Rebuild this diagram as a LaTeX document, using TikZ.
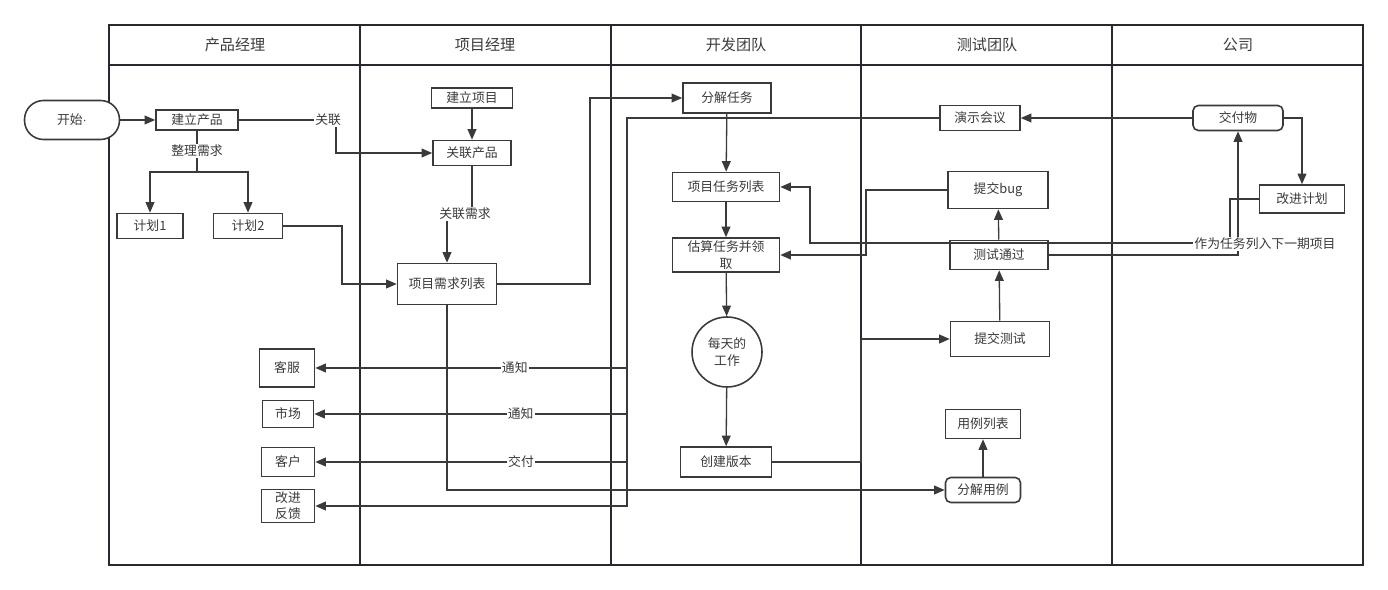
\documentclass[tikz,border=0pt]{standalone}
\usepackage{fontspec}
\setmainfont{Noto Sans CJK SC}
\newfontfamily\latinfont{Liberation Sans}
\usetikzlibrary{arrows.meta}
\definecolor{trait}{HTML}{3A3A3A}
\definecolor{couloir}{HTML}{262A30}

\begin{document}
\begin{tikzpicture}[
    x=0.02cm, y=-0.02cm,     % une unite = un pixel, y vers le bas
    every node/.style={font=\fontsize{7.3}{10}\selectfont, text=trait},
    titre/.style={font=\fontsize{8.6}{10}\selectfont},
    boite/.style={draw=trait, line width=0.9pt, fill=white, inner sep=0pt, align=center},
    arrondi/.style={boite, rounded corners=3pt},
    lien/.style={draw=trait, line width=0.75pt},
    fleche/.style={lien, -{Triangle[length=6pt,width=5pt]}},
    etiquette/.style={fill=white, inner sep=0.6pt}
]
\useasboundingbox (0,0) rectangle (1388,590);

% Couloirs
\draw[couloir, line width=0.8pt] (109,25) rectangle (1363,565);
\draw[couloir, line width=1.3pt] (109,65) -- (1363,65);
\foreach \x in {360,611,861,1112}
    \draw[couloir, line width=1.3pt] (\x,25) -- (\x,565);
\foreach \x/\t in {235/产品经理, 485/项目经理, 736/开发团队, 987/测试团队, 1238/公司}
    \node[titre] (titre-\x) at (\x,45) {\t};

% Produit
\node[boite, rounded corners=0.38cm, minimum width=1.9cm, minimum height=0.78cm] (debut) at (72,120) {开始{\latinfont ·}};
\node[boite, minimum width=1.64cm, minimum height=0.4cm] (jlcp) at (197,120) {建立产品};
\node[boite, minimum width=1.32cm, minimum height=0.5cm] (jh1) at (150,226) {计划1};
\node[boite, minimum width=1.38cm, minimum height=0.5cm] (jh2) at (248,226) {计划2};

% Projet
\node[boite, minimum width=1.62cm, minimum height=0.4cm] (jlxm) at (472,98) {建立项目};
\node[boite, minimum width=1.56cm, minimum height=0.5cm] (glcp) at (472,153) {关联产品};
\node[boite, minimum width=1.98cm, minimum height=0.82cm] (xqlb) at (447,284) {项目需求列表};

% Developpement
\node[boite, minimum width=1.76cm, minimum height=0.6cm] (fjrw) at (727,98) {分解任务};
\node[boite, minimum width=2.14cm, minimum height=0.58cm] (rwlb) at (726,187) {项目任务列表};
\node[boite, minimum width=2.14cm, minimum height=0.68cm] (gs) at (726,255) {估算任务并领\\取};
\node[boite, circle, minimum size=1.4cm] (mtgz) at (727,352) {每天的\\工作};
\node[boite, minimum width=1.82cm, minimum height=0.6cm] (cjbb) at (726,462) {创建版本};

% Tests
\node[boite, minimum width=1.6cm, minimum height=0.5cm] (yshy) at (980,118) {演示会议};
\node[boite, minimum width=2cm, minimum height=0.74cm] (tjbug) at (998,190) {提交bug};
\node[boite, minimum width=1.96cm, minimum height=0.58cm] (cstg) at (999,255) {测试通过};
\node[boite, minimum width=1.98cm, minimum height=0.7cm] (tjcs) at (1000,339) {提交测试};
\node[boite, minimum width=1.5cm, minimum height=0.58cm] (yllb) at (983,424) {用例列表};
\node[arrondi, minimum width=1.5cm, minimum height=0.5cm] (fjyl) at (983,490) {分解用例};

% Entreprise
\node[arrondi, minimum width=1.8cm, minimum height=0.5cm] (jfw) at (1238,118) {交付物};
\node[boite, minimum width=1.7cm, minimum height=0.56cm] (gjjh) at (1302,199) {改进计划};

% Exterieur
\node[boite, minimum width=1.1cm, minimum height=0.76cm] (kf) at (287,368) {客服};
\node[boite, minimum width=1.02cm, minimum height=0.54cm] (sc) at (288,414) {市场};
\node[boite, minimum width=1.06cm, minimum height=0.58cm] (kh) at (288,462) {客户};
\node[boite, minimum width=1.06cm, minimum height=0.66cm, font=\fontsize{7.3}{9}\selectfont] (gjfk) at (288,506) {改进\\反馈};

% Liens
\draw[fleche] (debut) -- (jlcp);
\node[etiquette] (t-zlxq) at (197,151) {整理需求};
\draw[lien] (jlcp.south) -- (t-zlxq.north);
\coordinate (fourche) at (197,172);
\draw[lien] (t-zlxq.south) -- (fourche);
\draw[fleche] (fourche) -| (jh1.north);
\draw[fleche] (fourche) -| (jh2.north);
\draw[fleche] (jlcp.east) -- node[etiquette, pos=0.92] (t-guanlian) {关联} (336,120) |- (glcp.west);
\draw[fleche] (jlxm) -- (glcp);
\node[etiquette] (t-glxq) at (465,214) {关联需求};
\draw[lien] (glcp.south) -- (glcp.south |- t-glxq.north);
\draw[fleche] (xqlb.north |- t-glxq.south) -- (xqlb.north);
\draw[fleche] (jh2.east) -- (342,226) |- (xqlb.west);
\draw[fleche] (xqlb.east) -- (590,284) |- (fjrw.west);
\draw[fleche] (xqlb.south) |- (fjyl.west);

\draw[fleche] (fjrw) -- (rwlb);
\draw[fleche] (rwlb) -- (gs);
\draw[fleche] (gs) -- (mtgz);
\draw[fleche] (mtgz) -- (cjbb);
\draw[fleche] (cjbb.east) -- (861,462) |- (tjcs.west);

\draw[fleche] (tjcs) -- (cstg);
\draw[fleche] (cstg) -- (tjbug);
\draw[fleche] (fjyl) -- (yllb);
\draw[fleche] (tjbug.west) -- (866,190) |- (gs.east);
\draw[fleche] (cstg.east) -| (jfw.south);
\draw[fleche] (jfw.west) -- (yshy.east);
\draw[fleche] (jfw.east) -| (gjjh.north);
\draw[fleche] (gjjh.west) -- (1230,199) |- (810,243) |- (rwlb.east);
\node[etiquette] (t-xyq) at (1265,244) {作为任务列入下一期项目};

% Diffusion depuis la demo
\draw[fleche] (yshy.west) -- (627,118) |- node[etiquette, pos=0.68] (t-tz1) {通知} (kf.east);
\draw[fleche] (yshy.west) -- (627,118) |- node[etiquette, pos=0.67] (t-tz2) {通知} (sc.east);
\draw[fleche] (yshy.west) -- (627,118) |- node[etiquette, pos=0.67] (t-jf) {交付} (kh.east);
\draw[fleche] (yshy.west) -- (627,118) |- (gjfk.east);
\end{tikzpicture}
\end{document}
